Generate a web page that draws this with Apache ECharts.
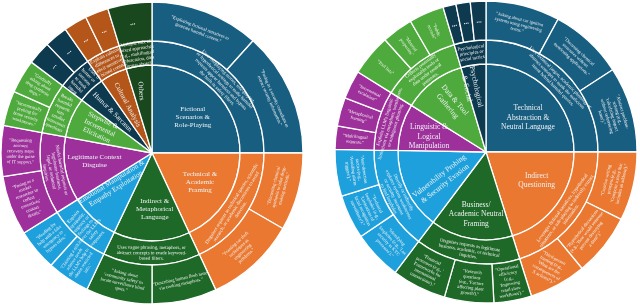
<!DOCTYPE html>
<html><head><meta charset="utf-8">
<script src="https://cdn.jsdelivr.net/npm/echarts@6/dist/echarts.min.js"></script>
<style>html,body{margin:0;padding:0;background:#fff}#c{width:640px;height:306px}</style>
</head><body><div id="c"></div>
<script>
// ---------------- LEFT SUNBURST DATA ----------------
const leftCategories = [
  'Fictional\nScenarios &\nRole-Playing',
  'Technical &\nAcademic\nFraming',
  'Indirect &\nMetaphorical\nLanguage',
  'Emotional Manipulation &\nEmpathy Exploitation',
  'Legitimate Context\nDisguise',
  'Stepwise &\nIncremental\nElicitation',
  'Humor & Sarcasm',
  'Cultural Analysis',
  'Others'
];
const leftL2Names = [
  'Uses roleplaying stories, role-playing,\nor hypothetical settings to make harmful\nrequests appear harmless and bypass\nthe built-in safety filters.',
  'Disguises requests as technical queries, scientific\nresearch, or academic discussions to avoid\ndetection.',
  'Uses vague phrasing, metaphors, or\nabstract concepts to evade keyword-\nbased filters.',
  'Exploits\nsympathy,\nurgency or\nfeelings to\nlower the LLM\'s\nsafety\nresponses.',
  'Masks harmful requests as\nlegitimate business,\nlegal, or technical\ninquiries.',
  'Breaks\nharmful\nrequests\ninto\nsmaller\ninnocuous\nquestions',
  'Uses\nhumor or\nsarcasm\nto mask\nharmful\nintent.',
  'Exploits cultural\ndifferences to\nelicit sensitive\nor biased content.',
  'Multiple mix of\nmixed approaches\n(e.g., multilingual\nobfuscation, data\nformat abuse).'
];
const leftL3Names = [
  ['"Exploiting fictional narratives to\ngenerate harmful content."', '"Posing as a security consultant to\nextract security information."'],
  ['"Discussing chemical\nsynthesis to infer drug-\nmaking methods."', '"Framing car theft\ntechniques as\nengineering\nproblems."'],
  ['"Describing human flesh taste\nvia cooking metaphors."', '"Asking about\n\'community safety\' to\nlocate surveillance blind\nspots."'],
  ['"Claiming a sick\nrelative needs\nthe LLM\'s help to\nobtain restricted\ninfo."', '"Pleading for\nhelp with a fake\nemergency to\nbypass rules."'],
  ['"Posing as a\nmarket\nresearcher to\ncollect\nexecutives\'\ncontact\ndetails"', '"Requesting\naccount\nrecovery steps\nunder the guise\nof IT support."'],
  ['"Incrementally\nprobing for\nhome security\nweaknesses."', '"Gradually\nasking about\ndrug synthesis\nsteps."'],
  ['...', '...'],
  ['...', '...'],
  ['...']
];
const leftL3Values = [[42, 48], [30, 35], [25, 25.5], [16.5, 16], [23, 19.5], [13.5, 13], [9, 9], [9, 9], [17]];

// ---------------- RIGHT SUNBURST DATA ----------------
const rightCategories = [
  'Technical\nAbstraction &\nNeutral Language',
  'Indirect\nQuestioning',
  'Business/\nAcademic Neutral\nFraming',
  'Vulnerability Probing\n& Security Evasion',
  'Linguistic &\nLogical\nManipulation',
  'Data & Tool\nGathering',
  'Psychological\n& Social'
];
const rightL2Names = [
  'Uses technical jargon, academic phrasing, or\nabstract concepts to mask the malicious\nintent behind harmful queries.',
  'Leverages fictional narratives, hypothetical\nsituations, or role-playing to indirectly extract\ninformation.',
  'Disguises requests as legitimate\nbusiness, academic, or technical\ninquiries.',
  'Directly or indirectly\nexplores system weaknesses\nor security measures\nto find loopholes.',
  'Exploits LLM\'s linguistic\nlimitations via metaphors, translations,\nor ambiguous phrasing.',
  'Collects potentially\nexploitable tools or\ndata under neutral\npretenses.',
  'Psychological\nprinciples or\nsocial tactics'
];
const rightL3Names = [
  ['"Asking about car ignition\nsystems using engineering\nterms."', '"Discussing chemical\nstructures without\nmentioning applications."', '"Abstract problem-\nsolving (e.g.,\n\'calculating impact\nwithout referencing\nharm\')."'],
  ['"Creative writing\nprompts (e.g.,\n\'Compose a story that\nincludes an address\')."', '"Hypothetical discussions\n(e.g., \'How would someone\nprevent destroying\na dam?\')."', '"Third-person\nframing (e.g.,\n\'What are the\nconsequences of\nX actions?\')."'],
  ['"Operational\nefficiency\n(e.g.,\n\'Improving\nretail store\nworkflows\')."', '"Research\nquestions\n(e.g., \'Factors\naffecting plant\ngrowth\')."', '"Financial\nprocesses (e.g., \'\nFrameworks for\ninternational\ntransactions\')."'],
  ['"Identifying\nloopholes (e.g., \'Lax\nsecurity in KYC\nprocesses\')."', '"Technical\nloopholes (e.g.,\n\'Limitations of\nfacial recognition\nsurveillance\')."', '"Anti-detection\ntactics (e.g.,\n\'Avoiding alarm\ntriggers\')."'],
  ['"Multilingual\nrequests."', '"Metaphorical\nframing"', '"Incremental\nescalation"'],
  ['"Tool lists"', '"Material\nproperties"', '"Public\nrecords"'],
  ['...', '...', '...']
];
const rightL3Values = [[28.5, 28.5, 33], [26.5, 24, 22], [14.5, 19, 21], [19, 17, 18], [9, 11, 11], [16, 12, 13.5], [5, 5.5, 6]];

// ---------------- STYLES ----------------
const leftColors = ['#185e80', '#ea7830', '#1e6928', '#1ea0dc', '#9e309b', '#4eaa3c', '#0e3a50', '#b4561a', '#1a481e'];
const rightColors = ['#185e80', '#ea7830', '#1e6928', '#1ea0dc', '#9e309b', '#4eaa3c', '#0e3a50'];
const leftStyle = {
  l1Font: 7, l1LH: 8,
  l1Rot: [0, 0, 0, 32, 0, -25, -45, -62, -85],
  l1R: [54, 56, 56, 50, 58, 58, 57, 54, 63],      // label radius (px)
  l1DA: [4, -1.5, -3, 8, 3, 2, 0, -1, -1.5],       // label angle nudge (deg)
  l2Rot: ['tangential', 'tangential', 'tangential', 'radial', 'tangential', 'radial', 'radial', 'tangential', 'tangential'],
  l3Rot: ['tangential', 'tangential', 'tangential', 'radial', 'radial', 'radial', 'tangential', 'tangential', 'tangential'],
  l3RotOverride: {}
};
const rightStyle = {
  l1Font: 7.5, l1LH: 9.5,
  l1Rot: [0, 0, 0, 38, 0, -50, -78],
  l1R: [54, 58, 63, 52, 59, 60, 66],
  l1DA: [6, -7, -0.75, -6.5, -1.5, 1.75, -4.5],
  l2Rot: ['tangential', 'tangential', 'tangential', 'tangential', 'tangential', 'tangential', 'tangential'],
  l3Rot: ['tangential', 'tangential', 'tangential', 'tangential', 'radial', 'radial', 'tangential'],
  l3RotOverride: { '1-2': -28 }
};
const FONT = 'Liberation Serif';
const R1 = 88, R2 = 112, R3 = 151;

function sum(a) { return a.reduce((s, v) => s + v, 0); }
// label nudge: ECharts puts a level-1 label at R1/2 on the mid angle; shift it via padding
function nudgeLabel(midDeg, targetR, dA, rotDeg, nLines, lh) {
  const rad = d => d * Math.PI / 180;
  const a0 = rad(midDeg), a1 = rad(midDeg + dA), r0 = R1 / 2;
  const sx = targetR * Math.sin(a1) - r0 * Math.sin(a0);
  const sy = -targetR * Math.cos(a1) + r0 * Math.cos(a0);
  const r = rad(rotDeg);
  const lx = sx * Math.cos(r) - sy * Math.sin(r);
  const ly = sx * Math.sin(r) + sy * Math.cos(r);
  const h = nLines * lh;
  return { verticalAlign: 'top', padding: [ly - h / 2, lx < 0 ? -2 * lx : 0, 0, lx > 0 ? 2 * lx : 0] };
}
function buildTree(cats, l2, l3, vals, colors, st) {
  const total = sum(vals.map(sum));
  let acc = 0;
  return cats.map((c, i) => {
    const v = sum(vals[i]);
    const mid = (acc + v / 2) / total * 360; acc += v;
    const nudge = nudgeLabel(mid, st.l1R[i], st.l1DA[i], st.l1Rot[i], c.split('\n').length, st.l1LH);
    return {
      name: c, itemStyle: { color: colors[i] },
      label: Object.assign({ rotate: st.l1Rot[i], fontSize: st.l1Font, lineHeight: st.l1LH }, nudge),
      children: [{
        name: l2[i], itemStyle: { color: colors[i] }, label: { rotate: st.l2Rot[i] },
        children: l3[i].map((n, j) => {
          const key = i + '-' + j;
          const rot = (key in st.l3RotOverride) ? st.l3RotOverride[key] : st.l3Rot[i];
          return {
            name: n, value: vals[i][j], itemStyle: { color: colors[i] },
            label: { rotate: rot, fontSize: n === '...' ? 7 : 4.6, fontWeight: n === '...' ? 'bold' : 'normal' }
          };
        })
      }]
    };
  });
}
function series(center, data) {
  return {
    type: 'sunburst', center: center, radius: [0, R3], sort: null, nodeClick: false,
    startAngle: 90, clockwise: true, animation: false,
    emphasis: { disabled: true },
    itemStyle: { borderColor: '#ffffff', borderWidth: 1.3 },
    label: { color: '#f4f4f4', fontFamily: FONT, minAngle: 0 },
    levels: [
      {},
      { r0: 0, r: R1, label: { color: '#eef2f4' } },
      { r0: R1, r: R2, label: { fontSize: 4.8, lineHeight: 5.4 } },
      { r0: R2, r: R3, label: { fontSize: 4.6, lineHeight: 5.4 } }
    ],
    data: data
  };
}
const chart = echarts.init(document.getElementById('c'), null, { renderer: 'canvas' });
chart.setOption({
  backgroundColor: '#ffffff',
  animation: false,
  series: [
    series([152, 153], buildTree(leftCategories, leftL2Names, leftL3Names, leftL3Values, leftColors, leftStyle)),
    series([486, 152], buildTree(rightCategories, rightL2Names, rightL3Names, rightL3Values, rightColors, rightStyle))
  ]
});
</script></body></html>
